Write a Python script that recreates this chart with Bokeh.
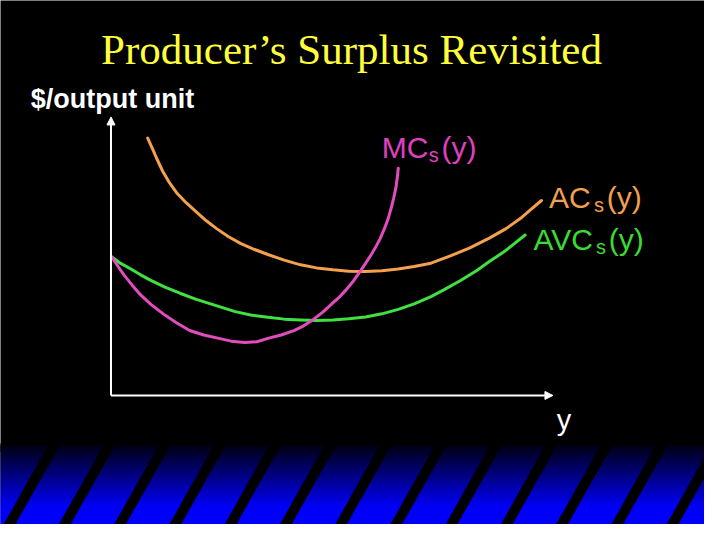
from bokeh.plotting import figure
from bokeh.models import Range1d, Arrow, NormalHead
from bokeh.core.properties import value
from bokeh.embed import file_html
from bokeh.resources import INLINE

# ---- data (output y, $/output unit) ----
ac_y = [0.83, 0.93, 1.04, 1.17, 1.33, 1.50, 1.70, 1.93, 2.15, 2.39, 2.66, 2.94, 3.25, 3.55, 3.92,
        4.29, 4.65, 5.02, 5.38, 5.76, 6.13, 6.50, 6.86, 7.24, 7.68, 8.12, 8.56, 8.94, 9.30, 9.51, 9.74]
ac_p = [9.24, 8.89, 8.49, 8.05, 7.62, 7.25, 6.92, 6.59, 6.28, 5.99, 5.70, 5.45, 5.24, 5.06, 4.86,
        4.69, 4.58, 4.51, 4.46, 4.45, 4.48, 4.54, 4.63, 4.75, 5.01, 5.30, 5.65, 5.99, 6.40, 6.69, 7.00]

avc_y = [0.02, 0.22, 0.45, 0.66, 0.89, 1.22, 1.56, 1.93, 2.29, 2.81, 3.16, 3.55, 3.92, 4.29, 4.65,
         5.02, 5.38, 5.76, 6.13, 6.50, 6.86, 7.24, 7.53, 7.90, 8.27, 8.56, 8.86, 9.12, 9.37]
avc_p = [4.97, 4.74, 4.54, 4.34, 4.14, 3.89, 3.67, 3.45, 3.27, 3.01, 2.89, 2.81, 2.74, 2.71, 2.69,
         2.71, 2.75, 2.82, 2.93, 3.09, 3.29, 3.55, 3.79, 4.12, 4.48, 4.81, 5.12, 5.44, 5.76]

mc_y = [0.02, 0.16, 0.30, 0.48, 0.67, 0.91, 1.19, 1.48, 1.78, 2.10, 2.44, 2.72, 3.03, 3.30, 3.55,
        3.85, 4.14, 4.36, 4.58, 4.80, 5.02, 5.18, 5.32, 5.49, 5.65, 5.76, 5.87, 5.98, 6.09, 6.18,
        6.27, 6.34, 6.40, 6.45, 6.48, 6.50]
mc_p = [4.97, 4.63, 4.31, 3.96, 3.61, 3.26, 2.92, 2.61, 2.33, 2.17, 2.05, 1.95, 1.90, 1.93, 2.05,
        2.17, 2.33, 2.50, 2.73, 3.00, 3.32, 3.55, 3.79, 4.12, 4.48, 4.74, 5.01, 5.30, 5.63, 5.96,
        6.34, 6.73, 7.11, 7.49, 7.84, 8.16]

axis_max_y = 10
axis_max_p = 10

title_text = "Producer\u2019s Surplus Revisited"
ylabel_text = "$/output unit"
xlabel_text = "y"

# ---- layout helpers (slide pixel -> data coordinates) ----
def X(px):
    return (px - 113) / 45.2

def Y(py):
    return (407 - py) / 28.7

W, H = 704, 524
p = figure(width=W, height=H, output_backend="svg", toolbar_location=None,
           x_range=Range1d(X(0), X(720)), y_range=Range1d(Y(540), Y(0)),
           x_axis_location=None, y_axis_location=None, min_border=0,
           background_fill_color="black", border_fill_color="black",
           outline_line_color=None)
p.grid.visible = False

# ---- decorative bottom band: blue gradient with black diagonal stripes ----
band_top, band_bot, full_at = 458, 540, 522
n = 40
lefts, rights, tops, bots, cols = [], [], [], [], []
for i in range(n):
    a = band_top + (band_bot - band_top) * i / n
    b = band_top + (band_bot - band_top) * (i + 1) / n
    t = min(1.0, (a - band_top) / (full_at - band_top))
    blue = int(20 + (250 - 20) * t)
    lefts.append(X(-2)); rights.append(X(722))
    tops.append(Y(a)); bots.append(Y(b + 0.6))
    cols.append("#%02x%02x%02x" % (0, 0, blue))
p.quad(left=lefts, right=rights, top=tops, bottom=bots, fill_color=cols, line_color=None)

sx, sy = [], []
for k in range(-1, 15):
    o = 56.5 * k
    sx.append([X(50 + o), X(62 + o), X(14 + o), X(2 + o)])
    sy.append([Y(band_top - 2), Y(band_top - 2), Y(band_bot + 2), Y(band_bot + 2)])
p.patches(sx, sy, fill_color="black", line_color=None)

# ---- curves ----
p.line(ac_y, ac_p, line_color="#F4A04E", line_width=3, line_join="round", line_cap="round")
p.line(avc_y, avc_p, line_color="#40E040", line_width=3, line_join="round", line_cap="round")
p.line(mc_y, mc_p, line_color="#E24CBE", line_width=3, line_join="round", line_cap="round")

# ---- axes drawn as arrows ----
for xe, ye in [(0, axis_max_p), (axis_max_y, 0)]:
    p.add_layout(Arrow(end=NormalHead(size=8, fill_color="white", line_color="white", line_width=1),
                       x_start=0, y_start=0, x_end=xe, y_end=ye,
                       line_color="white", line_width=2))

# ---- texts ----
sans = value("Liberation Sans")
p.text(x=[X(359)], y=[Y(50)], text=[title_text], text_font=value("Liberation Serif"),
       text_font_size=value("43px"), text_color="#FFFF3C", text_align="center",
       text_baseline="alphabetic")
p.text(x=[X(31)], y=[Y(102)], text=[ylabel_text], text_font=sans, text_font_style="bold",
       text_font_size=value("27px"), text_color="white", text_align="left",
       text_baseline="alphabetic")
p.text(x=[X(569)], y=[Y(432)], text=[xlabel_text], text_font=sans,
       text_font_size=value("29px"), text_color="white", text_align="left",
       text_baseline="alphabetic")

labels = [
    # (main, main_left, sub_left, paren_left, baseline, color)
    ("MC", 390, 438, 451, 163, "#E040C0"),
    ("AC", 561, 607, 620, 215, "#F3A04C"),
    ("AVC", 545, 609, 622, 258, "#38DD30"),
]
for main, lx, sxp, px_, bl, col in labels:
    b = bl - 12
    p.text(x=[X(lx)], y=[Y(b)], text=[main], text_font=sans, text_font_size=value("30px"),
           text_color=col, text_align="left", text_baseline="alphabetic")
    p.text(x=[X(sxp)], y=[Y(b + 8)], text=["s"], text_font=sans, text_font_size=value("20px"),
           text_color=col, text_align="left", text_baseline="alphabetic")
    p.text(x=[X(px_)], y=[Y(b)], text=["(y)"], text_font=sans, text_font_size=value("30px"),
           text_color=col, text_align="left", text_baseline="alphabetic")

open("out.html", "w").write(file_html(p, INLINE))
